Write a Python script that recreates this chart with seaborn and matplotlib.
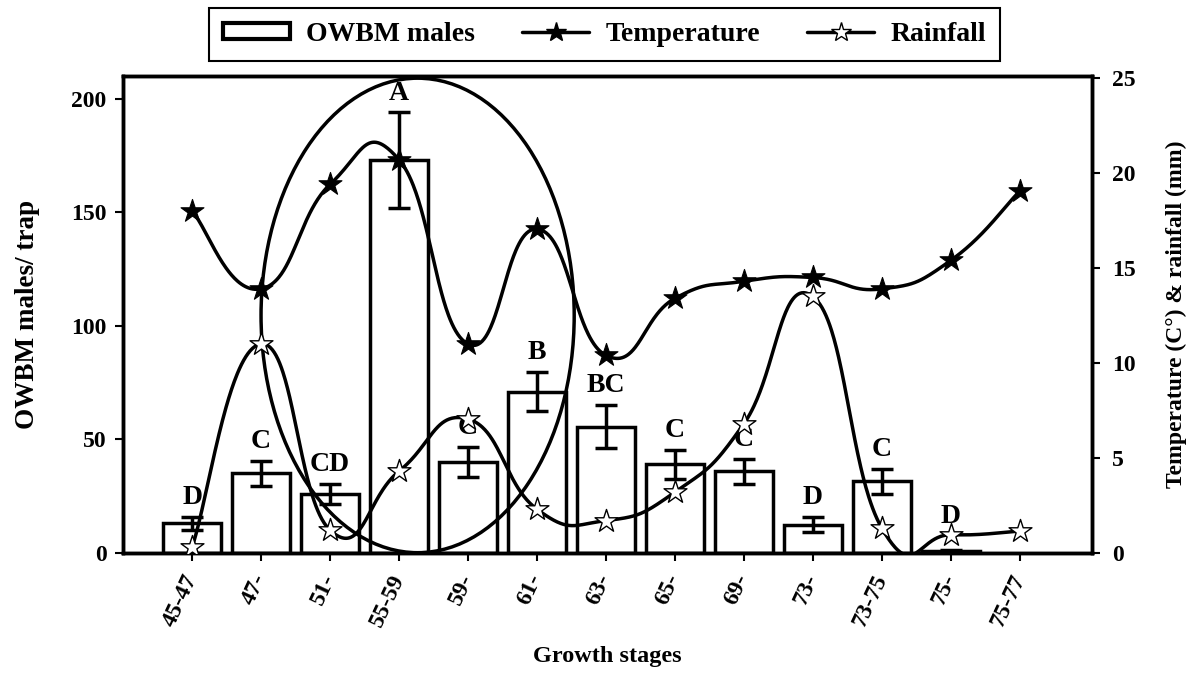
import numpy as np
import pandas as pd
import matplotlib
matplotlib.use("Agg")
import matplotlib.pyplot as plt
from matplotlib.patches import Ellipse, Patch
from matplotlib.lines import Line2D
import seaborn as sns

# ---- data ----
stages = ["45-47", "47-", "51-", "55-59", "59-", "61-", "63-", "65-", "69-",
          "73-", "73-75", "75-", "75-77"]
owbm_males = [13, 35, 26, 173, 40, 71, 55.5, 39, 36, 12.5, 31.5, 1, np.nan]
owbm_err = [3, 5.5, 4.5, 21, 6.5, 8.5, 9.5, 6.5, 5.5, 3.5, 5.5, 0.5, np.nan]
letters = ["D", "C", "CD", "A", "C", "B", "BC", "C", "C", "D", "C", "D", ""]
temperature = [18.0, 13.9, 19.4, 20.7, 11.0, 17.05, 10.4, 13.4, 14.3, 14.5, 13.9, 15.4, 19.05]
rainfall = [0.3, 11.0, 1.2, 4.3, 7.05, 2.3, 1.7, 3.2, 6.8, 13.5, 1.3, 0.95, 1.15]
left_ticks = [0, 50, 100, 150, 200]
right_ticks = [0, 5, 10, 15, 20, 25]

# letter offsets above error bar tops (points) - layout only
letter_pad = [5, 5, 5, 5, 5, 5, 5, 5, 5, 5, 5, 15, 5]

sns.set_theme(style="white")
plt.rcParams["font.family"] = ["Liberation Serif", "DejaVu Serif"]
plt.rcParams["font.weight"] = "bold"
for k in ["text.color", "axes.labelcolor", "xtick.color", "ytick.color"]:
    plt.rcParams[k] = "black"
FS = 17


def smooth(xs, ys, k=0.72, n=80):
    P = np.column_stack([xs, ys]).astype(float)
    Pe = np.vstack([P[0], P, P[-1]])
    t = np.linspace(0, 1, n)[:, None]
    h00 = 2 * t**3 - 3 * t**2 + 1
    h10 = t**3 - 2 * t**2 + t
    h01 = -2 * t**3 + 3 * t**2
    h11 = t**3 - t**2
    segs = []
    for i in range(len(P) - 1):
        m0 = k * (Pe[i + 2] - Pe[i])
        m1 = k * (Pe[i + 3] - Pe[i + 1])
        segs.append(h00 * P[i] + h10 * m0 + h01 * P[i + 1] + h11 * m1)
    s = np.vstack(segs)
    return s[:, 0], s[:, 1]


df = pd.DataFrame({"stage": stages, "males": owbm_males, "err": owbm_err})
xpos = np.arange(len(stages))

fig = plt.figure(figsize=(11.95, 6.86), dpi=100)
ax = fig.add_axes([0.103, 0.194, 0.811, 0.695])

sns.barplot(data=df, x="stage", y="males", order=stages, ax=ax, errorbar=None,
            color="white", edgecolor="black", linewidth=2.5, width=0.84,
            saturation=1)
ax.errorbar(xpos, df["males"], yerr=df["err"], fmt="none", ecolor="black",
            elinewidth=2.5, capsize=8, capthick=2.5, zorder=3)
for x, v, e, lab, pad in zip(xpos, owbm_males, owbm_err, letters, letter_pad):
    if lab and not np.isnan(v):
        ax.annotate(lab, (x, v + e), xytext=(0, pad), textcoords="offset points",
                    ha="center", va="bottom", fontsize=20, fontweight="bold")

ax.set_xlim(-1, 13.05)
ax.set_ylim(0, 210)
ax.set_yticks(left_ticks)
ax.set_xticks(xpos)
ax.set_xticklabels(stages, rotation=65, ha="right", va="center",
                   rotation_mode="anchor", fontsize=FS, fontweight="bold")
ax.set_yticklabels([str(v) for v in left_ticks], fontsize=FS, fontweight="bold")
ax.set_xlabel("Growth stages", fontsize=17.5, fontweight="bold", labelpad=12)
ax.set_ylabel("OWBM males/ trap", fontsize=19.5, fontweight="bold", labelpad=22)
ax.tick_params(axis="both", direction="out", length=6, width=1.5, color="black",
               left=True, bottom=True, pad=6)
ax.tick_params(axis="x", pad=10)
for sp in ax.spines.values():
    sp.set_color("black")
    sp.set_linewidth(2.5)

# ellipse annotation
ell = Ellipse((3.27, 104.6), width=4.54, height=209, fill=False,
              edgecolor="black", linewidth=2.5, zorder=5)
ax.add_patch(ell)

ax2 = ax.twinx()
ax2.set_ylim(0, 25.1)
ax2.set_yticks(right_ticks)
ax2.set_yticklabels([str(v) for v in right_ticks], fontsize=FS, fontweight="bold")
ax2.tick_params(axis="y", direction="out", length=6, width=1.5, color="black",
                right=True, pad=8)
ax2.set_ylabel("Temperature (C°) & rainfall (mm)", fontsize=FS,
               fontweight="bold", labelpad=22)
for sp in ax2.spines.values():
    sp.set_color("black")
    sp.set_linewidth(2.5)

tx, ty = smooth(xpos, temperature)
rx, ry = smooth(xpos, rainfall)
ax2.plot(tx, ty, color="black", lw=2.5, zorder=4)
ax2.plot(rx, ry, color="black", lw=2.5, zorder=4)
sns.scatterplot(x=xpos, y=temperature, ax=ax2, marker="*", s=300,
                color="black", edgecolor="black", linewidth=0.8, zorder=6)
sns.scatterplot(x=xpos, y=rainfall, ax=ax2, marker="*", s=300,
                color="white", edgecolor="black", linewidth=1.0, zorder=6)
ax2.set_xlim(-1, 13.05)

handles = [
    Patch(facecolor="white", edgecolor="black", linewidth=3),
    Line2D([], [], color="black", lw=2.5, marker="*", markersize=15,
           markerfacecolor="black", markeredgecolor="black"),
    Line2D([], [], color="black", lw=2.5, marker="*", markersize=15,
           markerfacecolor="white", markeredgecolor="black", markeredgewidth=1.0),
]
leg = fig.legend(handles, ["OWBM males", "Temperature", "Rainfall"],
                 loc="center", bbox_to_anchor=(0.506, 0.9497), ncol=3,
                 frameon=True, fancybox=False, framealpha=1, edgecolor="black",
                 prop={"size": 20, "weight": "bold"}, handlelength=2.4,
                 handleheight=0.5, columnspacing=1.7, handletextpad=0.6,
                 borderpad=0.5, borderaxespad=0)
leg.get_frame().set_linewidth(1.5)

fig.savefig("out.png", dpi=100)
